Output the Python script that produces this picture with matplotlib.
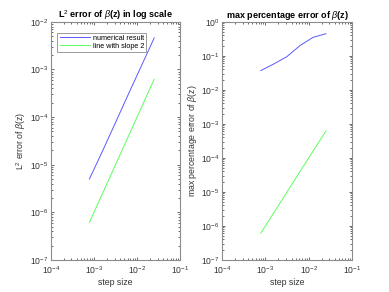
import numpy as np
import matplotlib.pyplot as plt

# step sizes (halved each refinement)
step = [7.8125e-4, 1.5625e-3, 3.125e-3, 6.25e-3, 1.25e-2, 2.5e-2]
l2_err = [5.0e-6, 1.9e-5, 7.5e-5, 3.0e-4, 1.17e-3, 4.6e-3]
max_pct_err = [0.037, 0.058, 0.095, 0.2, 0.35, 0.45]
slope2 = [7.8125e-4 ** 2, 1.5625e-3 ** 2, 3.125e-3 ** 2, 6.25e-3 ** 2, 1.25e-2 ** 2, 2.5e-2 ** 2]

plt.rcParams["font.family"] = ["Liberation Sans", "DejaVu Sans"]
plt.rcParams["mathtext.fontset"] = "custom"
plt.rcParams["mathtext.rm"] = "Liberation Sans"
plt.rcParams["mathtext.it"] = "Liberation Sans:italic"

fig = plt.figure(figsize=(3.89, 2.92), dpi=100)
ax1 = fig.add_axes([0.131, 0.11, 0.332, 0.815])
ax2 = fig.add_axes([0.571, 0.11, 0.334, 0.815])

grey = "#8c8c8c"
blue = "#5a5aff"
green = "#5aff5a"


def style(ax, ylim):
    ax.set_xscale("log")
    ax.set_yscale("log")
    ax.set_xlim(1e-4, 1e-1)
    ax.set_ylim(*ylim)
    ax.tick_params(which="both", direction="in", top=True, right=True,
                   labelsize=6.2, colors="#333333", width=0.5, pad=2)
    ax.tick_params(axis="x", pad=3.5)
    ax.tick_params(which="major", length=2.5)
    ax.tick_params(which="minor", length=1.3)
    for s in ax.spines.values():
        s.set_color(grey)
        s.set_linewidth(0.8)
    ax.set_xlabel("step size", fontsize=6.3, color="#333333", labelpad=1)


ax1.plot(step, l2_err, color=blue, linewidth=0.7, label="numerical result")
ax1.plot(step, slope2, color=green, linewidth=0.7, label="line with slope 2")
style(ax1, (1e-7, 1e-2))
ax1.set_title(r"L$^2$ error of $\beta$(z) in log scale", fontsize=6.5, fontweight="bold", pad=2)
ax1.set_ylabel(r"L$^2$ error of $\beta$(z)", fontsize=6.3, color="#333333", labelpad=1)
leg = ax1.legend(loc="upper left", bbox_to_anchor=(0.05, 0.955), fontsize=5.2,
                 frameon=True, fancybox=False, framealpha=1, handlelength=4.2,
                 borderpad=0.3, labelspacing=0.1, handletextpad=0.4, borderaxespad=0)
leg.get_frame().set_edgecolor(grey)
leg.get_frame().set_linewidth(0.6)

ax2.plot(step, max_pct_err, color=blue, linewidth=0.7)
ax2.plot(step, slope2, color=green, linewidth=0.7)
style(ax2, (1e-7, 1e0))
ax2.set_title(r"max percentage error of $\beta$(z)", fontsize=6.5, fontweight="bold", pad=2)
ax2.set_ylabel(r"max percentage error of $\beta$(z)", fontsize=6.3, color="#333333", labelpad=1)

fig.savefig("out.png", dpi=100)
